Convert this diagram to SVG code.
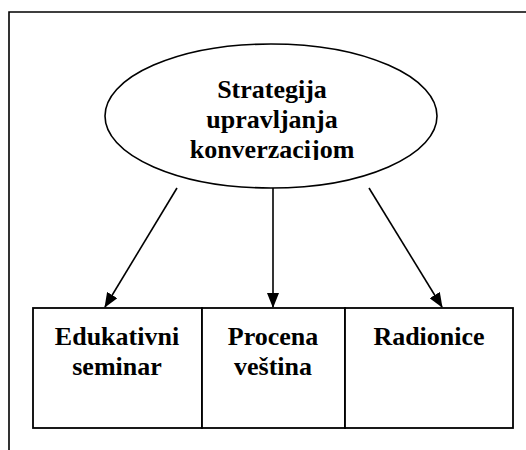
<svg xmlns="http://www.w3.org/2000/svg" width="526" height="450" viewBox="0 0 526 450">
<defs>
<style>
.ln{stroke:#000;stroke-width:1.6;fill:none}
.bx{stroke:#000;stroke-width:1.8;fill:#fff}
.t{font-family:"Liberation Serif","Times New Roman",serif;font-weight:bold;font-size:26px;fill:#000;text-anchor:middle}
</style>
<marker id="ah" markerWidth="15" markerHeight="12" refX="14" refY="6" orient="auto" markerUnits="userSpaceOnUse">
<path d="M0,0 L15,6 L0,12 Z" fill="#000"/>
</marker>
<clipPath id="clipE"><rect x="100" y="40" width="340" height="120"/></clipPath>
</defs>
<rect width="526" height="450" fill="#fff"/>
<path class="ln" d="M9,450 V12 H530"/>
<g id="connectors">
<line class="ln" x1="177" y1="188" x2="105" y2="307" marker-end="url(#ah)"/>
<line class="ln" x1="273" y1="188" x2="273" y2="307" marker-end="url(#ah)"/>
<line class="ln" x1="369" y1="188" x2="442" y2="307" marker-end="url(#ah)"/>
</g>
<g id="strategija">
<ellipse class="ln" cx="271" cy="116" rx="166" ry="72"/>
<g clip-path="url(#clipE)">
<text class="t" x="272" y="98">Strategija</text>
<text class="t" x="272" y="128">upravljanja</text>
<text class="t" x="272" y="158">konverzacijom</text>
</g>
</g>
<g id="edukativni">
<rect class="bx" x="33" y="308" width="169" height="120"/>
<text class="t" x="117" y="345">Edukativni</text>
<text class="t" x="117" y="375">seminar</text>
</g>
<g id="procena">
<rect class="bx" x="202" y="308" width="143" height="120"/>
<text class="t" x="273" y="345">Procena</text>
<text class="t" x="273" y="375">veština</text>
</g>
<g id="radionice">
<rect class="bx" x="345" y="308" width="168" height="120"/>
<text class="t" x="429" y="345">Radionice</text>
</g>
</svg>
